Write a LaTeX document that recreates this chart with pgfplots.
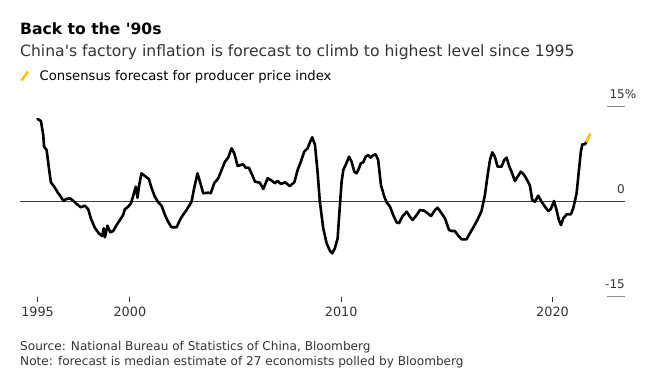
\documentclass[border=0pt]{standalone}
\usepackage{pgfplots}
\pgfplotsset{compat=1.18}
\usepackage{fontspec}
\setmainfont{DejaVu Sans}
\definecolor{bbyellow}{RGB}{255,191,0}
\definecolor{subgray}{RGB}{51,51,51}
\definecolor{tickgray}{RGB}{140,140,140}

\pgfplotstableread{
year val
1995.63 13.06
1995.79 12.74
1995.90 10.53
1995.94 8.68
1996.06 8.16
1996.17 5.27
1996.26 3.06
1996.42 2.37
1996.58 1.48
1996.73 0.79
1996.86 0.11
1996.99 0.43
1997.16 0.54
1997.32 0.16
1997.48 -0.36
1997.68 -0.88
1997.87 -0.63
1998.03 -1.20
1998.15 -2.62
1998.34 -4.11
1998.53 -4.99
1998.69 -5.42
1998.76 -4.20
1998.82 -5.62
1998.94 -3.79
1999.07 -4.83
1999.21 -4.63
1999.37 -3.68
1999.53 -2.89
1999.68 -2.10
1999.76 -1.20
1999.92 -0.79
2000.05 -0.25
2000.16 0.95
2000.28 2.37
2000.36 0.63
2000.44 2.64
2000.55 4.48
2000.71 4.06
2000.90 3.58
2001.03 2.12
2001.18 0.79
2001.34 -0.09
2001.50 -0.63
2001.66 -2.10
2001.81 -3.16
2001.97 -4.04
2002.21 -4.04
2002.37 -2.89
2002.48 -2.26
2002.68 -1.31
2002.92 0.00
2003.04 2.12
2003.20 4.48
2003.36 2.64
2003.47 1.33
2003.71 1.42
2003.83 1.33
2003.99 2.91
2004.18 3.69
2004.34 5.01
2004.50 6.32
2004.65 6.95
2004.81 8.43
2004.94 7.64
2005.10 5.64
2005.25 5.80
2005.36 5.91
2005.48 5.37
2005.63 5.37
2005.79 4.22
2005.92 3.16
2006.15 3.00
2006.31 2.01
2006.52 3.69
2006.74 3.27
2006.86 2.91
2006.99 3.27
2007.15 2.79
2007.34 3.06
2007.57 2.48
2007.78 3.06
2007.94 5.01
2008.09 6.32
2008.25 7.90
2008.41 8.43
2008.52 9.38
2008.63 10.17
2008.76 8.95
2008.88 4.74
2008.99 0.00
2009.15 -4.20
2009.31 -6.57
2009.47 -7.78
2009.58 -8.15
2009.70 -7.36
2009.83 -5.78
2009.94 -0.52
2010.02 3.16
2010.10 5.01
2010.21 5.80
2010.37 7.11
2010.49 6.32
2010.62 4.74
2010.73 4.48
2010.84 5.27
2010.93 6.06
2011.04 6.22
2011.16 7.11
2011.28 7.37
2011.39 6.95
2011.52 7.37
2011.63 7.48
2011.75 6.58
2011.88 2.64
2012.04 0.79
2012.15 -0.09
2012.31 -0.79
2012.46 -2.10
2012.62 -3.25
2012.73 -3.41
2012.89 -2.37
2013.10 -1.58
2013.25 -2.37
2013.38 -2.89
2013.57 -2.10
2013.73 -1.31
2013.93 -1.42
2014.09 -1.83
2014.25 -2.26
2014.44 -1.31
2014.56 -0.95
2014.75 -1.83
2014.91 -2.62
2015.10 -4.47
2015.25 -4.63
2015.38 -4.63
2015.54 -5.37
2015.70 -5.94
2015.93 -5.94
2016.09 -4.99
2016.29 -3.84
2016.46 -2.78
2016.64 -1.47
2016.80 1.06
2016.93 4.22
2017.04 6.58
2017.15 7.80
2017.27 7.11
2017.40 5.53
2017.59 5.53
2017.71 6.58
2017.83 6.95
2017.94 5.69
2018.06 4.74
2018.22 3.27
2018.38 4.11
2018.50 4.74
2018.66 4.22
2018.82 3.27
2018.93 2.53
2019.04 0.27
2019.17 0.00
2019.32 0.95
2019.48 0.00
2019.64 -0.79
2019.80 -1.47
2019.92 -1.15
2020.07 0.11
2020.19 -1.31
2020.30 -2.89
2020.40 -3.68
2020.51 -2.62
2020.67 -1.99
2020.87 -1.99
2020.98 -1.04
2021.14 1.33
2021.25 5.01
2021.34 7.90
2021.41 9.06
2021.53 9.06
2021.61 9.47
}\ppidata

\pgfplotstableread{
year val
2021.61 9.47
2021.77 10.64
}\forecast

\begin{document}
\begin{tikzpicture}[x=1pt,y=1pt]
\useasboundingbox (0,0) rectangle (664,388);
\node[anchor=base west, inner sep=0pt, font=\fontsize{15.6}{18}\selectfont\bfseries] at (20,353) {Back to the \textquotesingle 90s};
\node[anchor=base west, inner sep=0pt, font=\fontsize{15.6}{18}\selectfont, text=subgray] at (20,331.5) {China\textquotesingle s factory inflation is forecast to climb to highest level since 1995};
\draw[bbyellow, line width=2.4pt] (21.5,307.5) -- (28,316.5);
\node[anchor=base west, inner sep=0pt, font=\fontsize{13.2}{16}\selectfont] at (39.5,307) {Consensus forecast for producer price index};
\node[anchor=base west, inner sep=0pt, font=\fontsize{12.1}{14}\selectfont, text=subgray] at (20,37.3) {Source: National Bureau of Statistics of China, Bloomberg};
\node[anchor=base west, inner sep=0pt, font=\fontsize{12.1}{14}\selectfont, text=subgray] at (20,22.3) {Note: forecast is median estimate of 27 economists polled by Bloomberg};
\begin{axis}[
  at={(20pt,91.3pt)}, anchor=south west,
  scale only axis, width=605pt, height=190pt,
  xmin=1994.80, xmax=2023.43, ymin=-15, ymax=15,
  axis x line*=bottom, axis y line*=right,
  axis line style={draw=none},
  tick align=outside, major tick length=5pt,
  xtick={1995.63,2000,2010,2020}, xticklabels={1995,2000,2010,2020},
  x tick style={black!80, line width=0.9pt},
  xticklabel style={font=\fontsize{12.8}{15}\selectfont, inner sep=0pt, yshift=-5pt, text=subgray},
  ytick={-15,15}, yticklabels={-15,15\rlap{\%}},
  y tick style={draw=none},
  extra y ticks={0}, extra y tick labels={0},
  extra y tick style={grid=major, major grid style={black!75, line width=0.8pt}, y tick style={draw=none}},
  yticklabel style={anchor=base east, inner sep=0pt, xshift=-5pt, yshift=8pt, font=\fontsize{12}{14}\selectfont, text=subgray},
  /pgf/number format/assume math mode=true,
  clip=false,
]
\draw[tickgray, line width=1.3pt] (axis cs:2022.57,15) -- (axis cs:2023.43,15);
\draw[tickgray, line width=1.3pt] (axis cs:2022.57,-15) -- (axis cs:2023.43,-15);
\addplot[black, line width=2.6pt, line join=round, line cap=round, mark=none] table[x=year,y=val] {\ppidata};
\addplot[bbyellow, line width=2.6pt, line cap=round, mark=none] table[x=year,y=val] {\forecast};
\end{axis}
\end{tikzpicture}
\end{document}
